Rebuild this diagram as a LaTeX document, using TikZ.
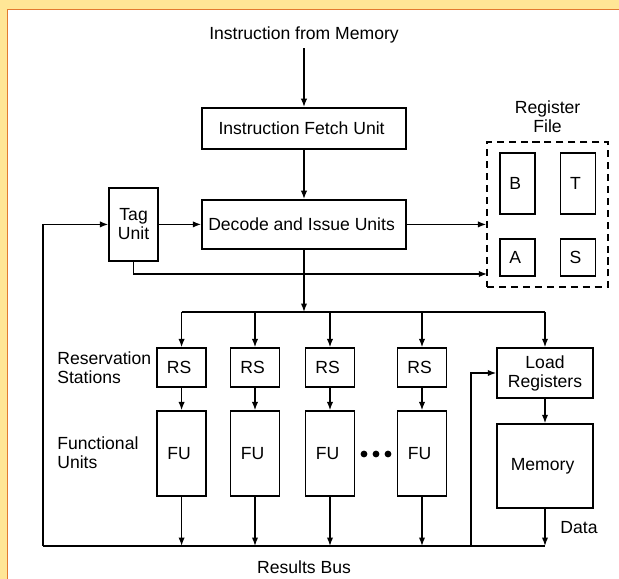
\documentclass[tikz,border=0pt]{standalone}
\usepackage{fontspec}
\setmainfont{Liberation Sans}
\usetikzlibrary{arrows.meta}

\definecolor{pagebg}{RGB}{255,230,150}
\definecolor{pageedge}{RGB}{226,122,48}

\tikzset{
  unit/.style={draw, line width=1.05pt, inner sep=0pt, align=center},
  wire/.style={line width=1.05pt},
  feed/.style={wire, -{Latex[length=6pt,width=4.5pt]}}
}

\begin{document}
\begin{tikzpicture}[font=\fontsize{12.5}{13.5}\selectfont]
  \useasboundingbox (0,0) rectangle (15.475,-14.475);
  \fill[pagebg] (-0.1,0.1) rectangle (15.6,-14.6);
  \fill[white] (0.2,-0.25) rectangle (15.6,-14.6);
  \draw[pageedge, line width=0.8pt] (0.19,-14.6) -- (0.19,-0.24) -- (15.6,-0.24);

  \node (src) at (7.6,-0.875) { Instruction from Memory };
  \node[unit, minimum width=5.1cm, minimum height=1.025cm] (fetch) at (7.6,-3.21) { Instruction Fetch Unit };
  \node[unit, minimum width=5.1cm, minimum height=1.225cm] (decode) at (7.6,-5.61) { Decode and Issue Units };
  \node[unit, minimum width=1.225cm, minimum height=1.825cm] (tag) at (3.34,-5.61) { Tag\\Unit };

  % register file
  \node[align=center] (rflabel) at (13.69,-2.925) { Register\\File };
  \node[draw, line width=1.05pt, dash pattern=on 5pt off 3.5pt, minimum width=3.025cm, minimum height=3.625cm] (regs) at (13.69,-5.36) {};
  \node[unit, minimum width=0.875cm, minimum height=1.525cm] (regB) at (12.94,-4.59) { B };
  \node[unit, minimum width=0.875cm, minimum height=1.525cm] (regT) at (14.45,-4.59) { T };
  \node[unit, minimum width=0.875cm, minimum height=0.925cm] (regA) at (12.94,-6.44) { A };
  \node[unit, minimum width=0.875cm, minimum height=0.925cm] (regS) at (14.45,-6.44) { S };

  % reservation stations and functional units
  \node[anchor=west, align=left] (rslabel) at (1.31,-9.2) { Reservation\\Stations };
  \node[anchor=west, align=left] (fulabel) at (1.31,-11.33) { Functional\\Units };

  \node[unit, minimum width=1.225cm, minimum height=0.975cm] (rs1) at (4.54,-9.19) { RS };
  \node[unit, minimum width=1.225cm, minimum height=0.975cm] (rs2) at (6.375,-9.19) { RS };
  \node[unit, minimum width=1.225cm, minimum height=0.975cm] (rs3) at (8.25,-9.19) { RS };
  \node[unit, minimum width=1.225cm, minimum height=0.975cm] (rs4) at (10.55,-9.19) { RS };

  \node[unit, minimum width=1.225cm, minimum height=2.125cm] (fu1) at (4.54,-11.34) { FU };
  \node[unit, minimum width=1.225cm, minimum height=2.125cm] (fu2) at (6.375,-11.34) { FU };
  \node[unit, minimum width=1.225cm, minimum height=2.125cm] (fu3) at (8.25,-11.34) { FU };
  \node[unit, minimum width=1.225cm, minimum height=2.125cm] (fu4) at (10.55,-11.34) { FU };

  \fill (9.1,-11.35) circle (0.085);
  \fill (9.4,-11.35) circle (0.085);
  \fill (9.7,-11.35) circle (0.085);

  \node[unit, minimum width=2.4cm, minimum height=1.25cm] (load) at (13.625,-9.325) { Load\\Registers };
  \node[unit, minimum width=2.4cm, minimum height=2.1cm] (mem) at (13.625,-11.65) { Memory };

  \node (results) at (7.6,-14.175) { Results Bus };
  \node (data) at (14.475,-13.2) { Data };

  \coordinate (regin) at (12.18,-6.85);
  \coordinate (split) at (7.6,-7.8);
  \coordinate (busL) at (1.075,-13.65);
  \coordinate (tapL) at (11.775,-13.65);

  \draw[feed] (src) -- (fetch);
  \draw[feed] (fetch) -- (decode);
  \draw[feed] (tag) -- (decode);
  \draw[feed] (decode) -- (decode -| regs.west);
  \draw[feed] (tag) |- (regin);

  \draw[feed] (decode) -- (split);
  \draw[wire] (rs1 |- split) -- (load |- split);
  \draw[feed] (rs1 |- split) -- (rs1);
  \draw[feed] (rs2 |- split) -- (rs2);
  \draw[feed] (rs3 |- split) -- (rs3);
  \draw[feed] (rs4 |- split) -- (rs4);
  \draw[feed] (load |- split) -- (load);

  \draw[feed] (rs1) -- (fu1);
  \draw[feed] (rs2) -- (fu2);
  \draw[feed] (rs3) -- (fu3);
  \draw[feed] (rs4) -- (fu4);

  \draw[wire] (busL) -- (mem |- busL);
  \draw[feed] (fu1) -- (fu1 |- busL);
  \draw[feed] (fu2) -- (fu2 |- busL);
  \draw[feed] (fu3) -- (fu3 |- busL);
  \draw[feed] (fu4) -- (fu4 |- busL);
  \draw[feed] (mem) -- (mem |- busL);

  \draw[feed] (busL) |- (tag);
  \draw[feed] (tapL) |- (load);
  \draw[feed] (load) -- (mem);
\end{tikzpicture}
\end{document}
